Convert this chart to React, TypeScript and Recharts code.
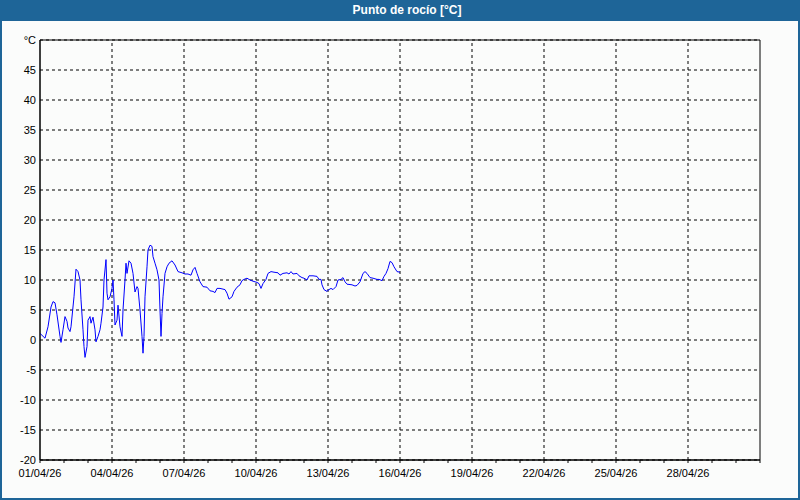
import React from "react";
import {
  LineChart,
  Line,
  XAxis,
  YAxis,
  CartesianGrid,
  ReferenceLine,
  ReferenceArea,
} from "recharts";

// hours since 01/04/26 00:00
const hours = [
  0, 5, 8, 11, 13, 15, 17, 20, 21, 23, 25, 27, 28, 30, 31, 34, 36, 38, 40, 41,
  43, 44, 45, 47, 48, 50, 51, 53, 55, 56, 58, 60, 61, 63, 64, 66, 67, 68, 70,
  72, 73, 74, 75, 77, 78, 80, 82, 83, 85, 86, 87, 89, 91, 93, 95, 97, 98, 100,
  102, 103, 104, 105, 107, 108, 110, 112, 113, 115, 117, 119, 120, 121, 122,
  123, 125, 127, 129, 132, 135, 138, 142, 145, 148, 151, 153, 155, 157, 160,
  163, 167, 170, 173, 175, 177, 180, 185, 187, 189, 192, 194, 197, 200, 202,
  204, 207, 210, 213, 217, 219, 221, 223, 226, 228, 231, 234, 238, 240, 243,
  247, 249, 251, 253, 257, 259, 262, 264, 267, 269, 273, 277, 279, 281, 282,
  284, 287, 288, 291, 293, 296, 298, 301, 303, 305, 307, 312, 315, 317, 320,
  323, 325, 327, 330, 333, 337, 339, 342, 344, 346, 348, 350, 352, 354, 357,
  360,
];

const dewPoint = [
  1.1, 0.3, 2.2, 5.5, 6.4, 6.2, 4.2, 0.6, -0.4, 1.7, 3.9, 3.1, 2.0, 1.4, 2.2,
  7.2, 11.8, 11.4, 10.0, 6.7, 1.7, -1.1, -2.9, -1.1, 3.3, 3.9, 2.8, 3.8, 1.7,
  -0.3, 0.6, 1.7, 2.8, 5.5, 10.0, 13.4, 7.8, 6.7, 7.2, 8.6, 10.0, 6.7, 2.5,
  3.3, 5.8, 2.2, 0.6, 5.0, 10.0, 12.8, 11.1, 13.2, 12.8, 11.1, 8.0, 8.9, 8.6,
  5.0, 0.6, -2.2, 0.6, 7.2, 12.2, 15.0, 15.8, 15.6, 13.9, 12.8, 11.7, 10.0,
  5.0, 0.6, 4.4, 7.2, 11.1, 12.2, 12.8, 13.2, 12.5, 11.4, 11.2, 11.0, 11.0,
  10.8, 11.7, 12.1, 11.1, 9.7, 8.9, 8.8, 8.2, 8.1, 7.9, 8.6, 8.6, 8.4, 7.8,
  6.8, 7.2, 8.1, 8.8, 9.2, 9.9, 10.1, 10.3, 10.0, 9.8, 9.6, 9.4, 8.6, 9.4,
  10.1, 11.1, 11.4, 11.3, 11.2, 10.8, 11.1, 11.2, 11.0, 11.4, 11.0, 11.1, 10.7,
  10.4, 10.3, 10.0, 10.7, 10.7, 10.6, 10.1, 10.1, 9.2, 8.4, 8.1, 8.3, 8.6, 8.4,
  8.9, 10.0, 10.1, 10.4, 9.7, 9.3, 9.2, 9.0, 9.1, 9.7, 11.1, 11.4, 11.1, 10.4,
  10.3, 10.1, 10.1, 9.9, 10.6, 11.1, 11.9, 13.1, 12.9, 12.2, 11.4, 11.3,
];

const dateLabels = [
  "01/04/26",
  "04/04/26",
  "07/04/26",
  "10/04/26",
  "13/04/26",
  "16/04/26",
  "19/04/26",
  "22/04/26",
  "25/04/26",
  "28/04/26",
];

const yTicks = [-20, -15, -10, -5, 0, 5, 10, 15, 20, 25, 30, 35, 40, 45, 50];

const data = hours.map((h, i) => ({ h, v: dewPoint[i] }));
const dayTicks = Array.from({ length: 31 }, (_, i) => i * 24);
const labelHours = dateLabels.map((_, i) => i * 72);

const font = "'Liberation Sans', Arial, sans-serif";
const blue = "#1e6598";

export default function App() {
  return (
    <div
      style={{
        position: "absolute",
        left: 0,
        top: 0,
        width: 800,
        height: 500,
        background: "#fbfcfb",
        overflow: "hidden",
      }}
    >
      <LineChart
        width={800}
        height={500}
        data={data}
        margin={{ top: 40, right: 40, left: 0, bottom: 0 }}
        style={{ fontFamily: font }}
      >
        <CartesianGrid
          vertical={false}
          stroke="#000"
          strokeDasharray="3 3"
        />
        {labelHours.slice(1).map((h) => (
          <ReferenceLine
            key={h}
            x={h}
            stroke="#000"
            strokeDasharray="3 3"
          />
        ))}
        <ReferenceArea
          x1={0}
          x2={720}
          y1={-20}
          y2={50}
          fill="none"
          stroke="#000"
          strokeWidth={1}
        />
        <XAxis
          dataKey="h"
          type="number"
          domain={[0, 720]}
          ticks={dayTicks}
          interval={0}
          height={40}
          tickSize={3}
          tickMargin={6}
          axisLine={{ stroke: "#000" }}
          tickLine={{ stroke: "#000" }}
          tick={{ fill: "#000", fontSize: 11, fontFamily: font }}
          tickFormatter={(h: number) => {
            const i = labelHours.indexOf(h);
            return i >= 0 ? dateLabels[i] : "";
          }}
        />
        <YAxis
          type="number"
          domain={[-20, 50]}
          ticks={yTicks}
          interval={0}
          width={40}
          tickLine={false}
          tickSize={2}
          tickMargin={2}
          axisLine={{ stroke: "#000" }}
          tick={{ fill: "#000", fontSize: 11, fontFamily: font }}
          tickFormatter={(v: number) => (v === 50 ? "°C" : String(v))}
        />
        <Line
          dataKey="v"
          type="linear"
          stroke="#0000ff"
          strokeWidth={1}
          dot={false}
          isAnimationActive={false}
        />
      </LineChart>
      <div
        style={{
          position: "absolute",
          left: 0,
          top: 0,
          width: 800,
          height: 21,
          background: blue,
          color: "#fff",
          fontFamily: font,
          fontWeight: "bold",
          fontSize: 12,
          lineHeight: "21px",
          textAlign: "center",
          paddingLeft: 14,
          boxSizing: "border-box",
        }}
      >
        Punto de rocío [°C]
      </div>
      <div style={{ position: "absolute", left: 0, top: 0, width: 2, height: 500, background: blue }} />
      <div style={{ position: "absolute", right: 0, top: 0, width: 2, height: 500, background: blue }} />
      <div style={{ position: "absolute", left: 0, bottom: 0, width: 800, height: 2, background: blue }} />
    </div>
  );
}
